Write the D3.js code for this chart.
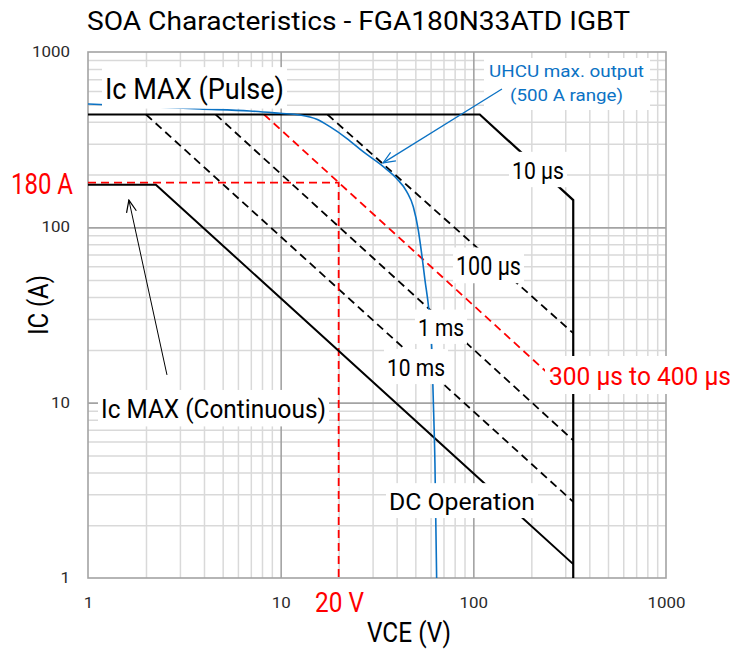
<!DOCTYPE html>
<html><head><meta charset="utf-8">
<script src="https://cdn.jsdelivr.net/npm/d3@7"></script>
<style>body{margin:0;background:#fff} svg{display:block;font-family:Roboto,"Noto Sans",sans-serif}</style>
</head><body><svg id="c" width="741" height="652"></svg>
<script>
// ---------- data ----------
const xTicks = [1, 10, 100, 1000];
const xTickLabels = ["1", "10", "100", "1000"];
const yTicks = [1, 10, 100, 1000];
const yTickLabels = ["1", "10", "100", "1000"];
// [VCE (V), IC (A)]
const pulseLimit = [[1, 440], [108, 440], [330, 143], [330, 1]];
const continuousLimit = [[1, 175], [2.25, 175], [330, 1.2]];
const line100us = [[17.5, 440], [330, 24.9]];
const line1ms = [[4.6, 440], [330, 6.1]];
const line10ms = [[2.0, 440], [330, 2.72]];
const line300to400us = [[8.2, 440], [260, 13.8]];
const ratedPoint = [[1, 180], [20, 180], [20, 1]];
const uhcuOutput = [[1, 505], [3.8, 473], [6.9, 461], [9.9, 447], [12.6, 437], [15.4, 413], [18, 375], [22, 322], [26.8, 270], [34.1, 222], [40, 190], [45.1, 160], [48.8, 131], [51.8, 96.5], [53.9, 71.1], [56.1, 50], [58.8, 33.7], [60.8, 20.8], [61.9, 10.8], [63.2, 4.52], [64.5, 1.0]];
const uhcuArrow = [[140.8, 615], [34.0, 233]];
const contArrow = [[2.57, 14.4], [1.63, 143]];

// ---------- layout ----------
const L = 88, R = 666, T = 52, B = 578;
const svg = d3.select("#c");
const x = d3.scaleLog().domain([1, 1000]).range([L, R]);
const y = d3.scaleLog().domain([1, 1000]).range([B, T]);
const minor = [];
[1, 10, 100].forEach(d => { for (let k = 2; k <= 9; k++) minor.push(d * k); });
const major = [10, 100];

svg.append("rect").attr("width", 741).attr("height", 652).attr("fill", "#fff");

function grid(vals, color, w) {
  const gx = svg.append("g").attr("transform", `translate(0,${B})`)
    .call(d3.axisBottom(x).tickValues(vals).tickSize(-(B - T)).tickFormat(""));
  gx.select(".domain").remove();
  gx.selectAll("line").attr("stroke", color).attr("stroke-width", w);
  const gy = svg.append("g").attr("transform", `translate(${L},0)`)
    .call(d3.axisLeft(y).tickValues(vals).tickSize(-(R - L)).tickFormat(""));
  gy.select(".domain").remove();
  gy.selectAll("line").attr("stroke", color).attr("stroke-width", w);
}
grid(minor, "#d9d9d9", 1.5);
grid(major, "#a3a3a3", 1.6);
svg.append("rect").attr("x", L).attr("y", T).attr("width", R - L).attr("height", B - T)
  .attr("fill", "none").attr("stroke", "#a3a3a3").attr("stroke-width", 1.6);

// tick labels
const ax = svg.append("g").attr("transform", `translate(0,${B})`)
  .call(d3.axisBottom(x).tickValues(xTicks).tickFormat((d, i) => xTickLabels[i]).tickSize(0).tickPadding(20));
ax.select(".domain").remove();
ax.selectAll("text").attr("font-size", 14).attr("fill", "#2b2b2b").attr("font-family", "Roboto")
  .attr("textLength", function () { return this.textContent.length * 9.5; }).attr("lengthAdjust", "spacingAndGlyphs");
const ay = svg.append("g").attr("transform", `translate(${L},0)`)
  .call(d3.axisLeft(y).tickValues(yTicks).tickFormat((d, i) => yTickLabels[i]).tickSize(0).tickPadding(18));
ay.select(".domain").remove();
ay.selectAll("text").attr("font-size", 14).attr("fill", "#2b2b2b").attr("font-family", "Roboto")
  .attr("textLength", function () { return this.textContent.length * 9.5; }).attr("lengthAdjust", "spacingAndGlyphs");

// ---------- lines ----------
const defs = svg.append("defs");
defs.append("clipPath").attr("id", "plot").append("rect").attr("x", L).attr("y", T).attr("width", R - L).attr("height", B - T);
const line = d3.line().x(d => x(d[0])).y(d => y(d[1]));
const plot = svg.append("g").attr("clip-path", "url(#plot)");
function path(data, color, w, dash, gen) {
  plot.append("path").datum(data).attr("d", gen || line).attr("fill", "none")
    .attr("stroke", color).attr("stroke-width", w).attr("stroke-dasharray", dash || null);
}
path(line10ms, "#000", 1.8, "8,5");
path(line1ms, "#000", 1.8, "8,5");
path(line100us, "#000", 1.8, "8,5");
path(line300to400us, "#ff0000", 1.8, "8,5");
path(ratedPoint, "#ff0000", 1.8, "8,5");
path(continuousLimit, "#000", 2);
path(pulseLimit, "#000", 2.2);
path(uhcuOutput, "#0b72c4", 1.6, null, d3.line().x(d => x(d[0])).y(d => y(d[1])).curve(d3.curveMonotoneX));

// ---------- labels ----------
function label(txt, lx, base, fs, len, color, box) {
  if (box) svg.append("rect").attr("x", lx - 3).attr("y", base - 1.1 * fs).attr("width", len + 6)
    .attr("height", 1.43 * fs).attr("fill", "#fff");
  svg.append("text").attr("x", lx).attr("y", base).attr("font-size", fs).attr("fill", color || "#000")
    .attr("textLength", len).attr("lengthAdjust", "spacingAndGlyphs").text(txt);
}
label("SOA Characteristics - FGA180N33ATD IGBT", 87, 30, 26, 543, "#000", false);
label("Ic MAX (Pulse)", 105, 99, 29, 179, "#000", true);
label("10 µs", 512, 179, 24.7, 52, "#000", true);
label("100 µs", 456, 275, 25, 65, "#000", true);
label("1 ms", 418, 336, 24, 46, "#000", true);
label("10 ms", 387, 376, 24.5, 58, "#000", true);
label("DC Operation", 389, 510, 24.4, 146, "#000", true);
label("Ic MAX (Continuous)", 101, 418, 25.5, 225, "#000", true);
svg.append("rect").attr("x", 545).attr("y", 356).attr("width", 196).attr("height", 38).attr("fill", "#fff");
label("300 µs to 400 µs", 549, 385, 25.7, 182, "#ff0000", false);
svg.append("rect").attr("x", 484).attr("y", 58).attr("width", 166).attr("height", 52).attr("fill", "#fff");
label("UHCU max. output", 489, 77, 17.3, 155, "#0b72c4", false);
label("(500 A range)", 510, 101, 17.3, 113, "#0b72c4", false);
label("180 A", 11, 194, 29.5, 62, "#ff0000", false);
label("20 V", 315, 612, 28, 49, "#ff0000", false);
label("VCE (V)", 367, 642, 27, 84, "#000", false);
svg.append("text").attr("transform", "translate(48,335) rotate(-90)").attr("font-size", 27)
  .attr("textLength", 60).attr("lengthAdjust", "spacingAndGlyphs").text("IC (A)");

// ---------- arrows ----------
function marker(id, color) {
  defs.append("marker").attr("id", id).attr("markerUnits", "userSpaceOnUse")
    .attr("viewBox", "0 0 14 12").attr("markerWidth", 14).attr("markerHeight", 12)
    .attr("refX", 13).attr("refY", 6).attr("orient", "auto")
    .append("path").attr("d", "M1,1 L13,6 L1,11").attr("fill", "none").attr("stroke", color).attr("stroke-width", 1.2);
}
marker("mb", "#0b72c4");
marker("mk", "#000");
svg.append("path").datum(uhcuArrow).attr("d", line).attr("stroke", "#0b72c4").attr("stroke-width", 1.3)
  .attr("fill", "none").attr("marker-end", "url(#mb)");
svg.append("path").datum(contArrow).attr("d", line).attr("stroke", "#000").attr("stroke-width", 1)
  .attr("fill", "none").attr("marker-end", "url(#mk)");
</script></body></html>
